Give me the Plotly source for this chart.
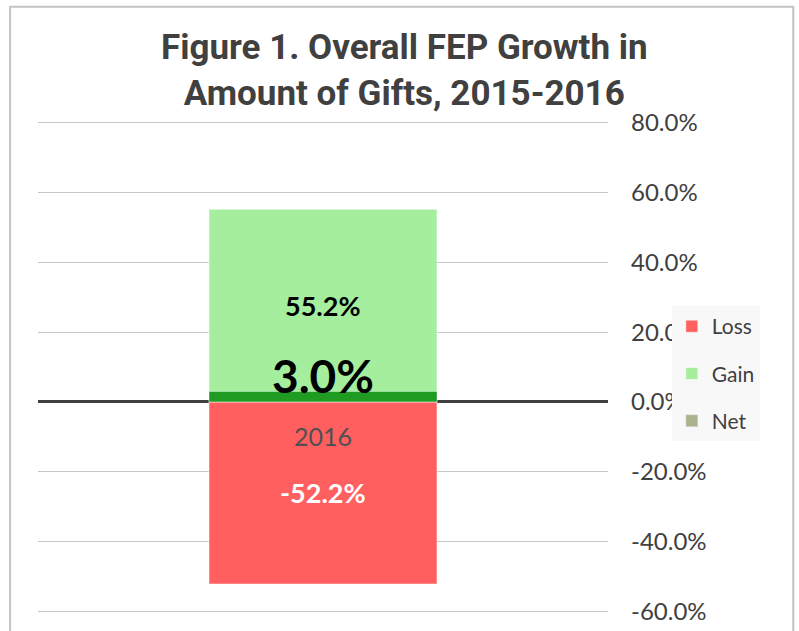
import plotly.graph_objs as go

# data
years = ['2016']
loss = [-52.2]
gain = [55.2]
net = [3.0]
y_ticks = [-60, -40, -20, 0, 20, 40, 60, 80]

fnt = "Lato, 'Noto Sans', sans-serif"
title_fnt = "Roboto, 'Noto Sans', sans-serif"
grey = '#404040'

fig = go.Figure()
fig.add_trace(go.Bar(name='Loss', x=years, y=loss, width=0.4,
                     marker=dict(color='#ff5f5f', line=dict(color='rgba(255,255,255,0.5)', width=1)),
                     legendgroup='a', hoverinfo='y'))
fig.add_trace(go.Bar(name='Gain', x=years, y=gain, width=0.4,
                     marker=dict(color='#a4ee9e', line=dict(color='rgba(255,255,255,0.5)', width=1)),
                     legendgroup='b', hoverinfo='y'))
fig.add_trace(go.Bar(name='Net', x=years, y=net, width=0.4,
                     marker=dict(color='#1f9b21', line=dict(color='rgba(255,255,255,0.4)', width=1)),
                     showlegend=False, hoverinfo='y'))
# legend swatch for Net uses a different (olive) tint in the original
fig.add_trace(go.Bar(name='Net', x=years, y=[None], marker_color='#aab38c',
                     legendgroup='c', hoverinfo='skip'))

# data labels
for i, (yr, g, l, n) in enumerate(zip(years, gain, loss, net)):
    fig.add_annotation(x=i, y=g / 2, text=f"<b>{g:.1f}%</b>", showarrow=False,
                       font=dict(family=fnt, size=27, color='black'))
    fig.add_annotation(x=i, y=l / 2, text=f"<b>{l:.1f}%</b>", showarrow=False,
                       font=dict(family=fnt, size=27, color='white'))
    fig.add_annotation(x=i, y=n, yanchor='bottom', yshift=-14, text=f"<b>{n:.1f}%</b>",
                       showarrow=False, font=dict(family=fnt, size=46, color='black'))
    # category label sits on the zero line, Excel style
    fig.add_annotation(x=i, y=0, yanchor='top', yshift=-17, text=yr, showarrow=False,
                       font=dict(family=fnt, size=25, color='#505050'))

# chart frame
fig.add_shape(type='rect', xref='paper', yref='paper',
              x0=-0.049, x1=1.325, y0=-0.08, y1=1.232,
              line=dict(color='#c4c4c4', width=2), layer='below')

fig.update_layout(
    width=799, height=631,
    margin=dict(l=38, r=191, t=121, b=18, autoexpand=False),
    paper_bgcolor='white', plot_bgcolor='white',
    barmode='overlay',
    title=dict(text='<b>Figure 1. Overall FEP Growth in<br>Amount of Gifts, 2015-2016</b>',
               x=0.506, xanchor='center', y=0.906, yanchor='middle', yref='container',
               font=dict(family=title_fnt, size=35, color=grey)),
    xaxis=dict(type='category', showticklabels=False, showgrid=False, zeroline=False,
               range=[-0.5, 0.5], automargin=False),
    yaxis=dict(side='right', range=[-60.5, 80.5], tickvals=y_ticks,
               ticktext=[f"{v:.1f}%" for v in y_ticks],
               tickfont=dict(family=fnt, size=24, color=grey),
               ticklabelstandoff=22, automargin=False,
               gridcolor='#c8c8c8', gridwidth=1,
               zeroline=True, zerolinecolor='#404040', zerolinewidth=3),
    legend=dict(x=1.112, y=0.624, xanchor='left', yanchor='top',
                bgcolor='#f8f8f8', font=dict(family=fnt, size=21, color=grey),
                tracegroupgap=17, itemwidth=30),
    showlegend=True,
)

# drop the default page margin so the figure sits at the window's corner
fig.write_html("out.html", config={'displayModeBar': False},
               post_script="document.body.style.margin='0';")
